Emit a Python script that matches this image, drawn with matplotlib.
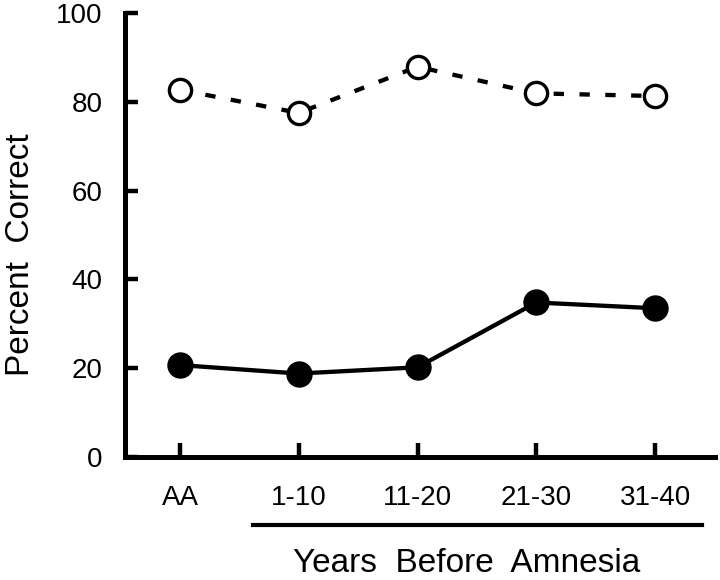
import matplotlib
matplotlib.use("Agg")
import matplotlib.pyplot as plt
from matplotlib.lines import Line2D

categories = ["AA", "1-10", "11-20", "21-30", "31-40"]
open_values = [82.7, 77.5, 87.9, 81.9, 81.3]
filled_values = [20.7, 18.8, 20.2, 34.8, 33.5]
y_ticks = [0, 20, 40, 60, 80, 100]

plt.rcParams['font.family'] = ['Liberation Sans', 'DejaVu Sans']

W, H = 720, 580
fig = plt.figure(figsize=(7.2, 5.8), dpi=100)
ax = fig.add_axes([125/W, 1-457/H, (715-125)/W, (457-13)/H])

x = list(range(len(categories)))
ax.plot(x, open_values, linestyle=(0, (2.4, 3.6)), color='black', lw=3.1,
        marker='o', markersize=16, markerfacecolor='white',
        markeredgecolor='black', markeredgewidth=2.4, zorder=3)
ax.plot(x, filled_values, linestyle='-', color='black', lw=3.1,
        marker='o', markersize=18, markerfacecolor='black',
        markeredgecolor='black', zorder=3)

ax.set_xlim(-0.463, 4.505)
ax.set_ylim(0, 100)
ax.set_xticks(x)
ax.set_xticklabels(categories)
ax.set_yticks(y_ticks)

for s in ['top', 'right']:
    ax.spines[s].set_visible(False)
for s in ['left', 'bottom']:
    ax.spines[s].set_linewidth(3.6)

ax.tick_params(axis='y', direction='in', length=9, width=3.2, labelsize=20, pad=16)
ax.tick_params(axis='x', direction='in', length=10, width=3.2, labelsize=20, pad=20)

fig.text(21/W, 1-255/H, "Percent  Correct", rotation=90, fontsize=24,
         ha='center', va='center')
fig.add_artist(Line2D([253/W, 702/W], [1-525/H, 1-525/H], color='black', lw=3.0))
fig.text(467/W, 1-572/H, "Years  Before  Amnesia", fontsize=24,
         ha='center', va='baseline')

fig.savefig("out.png", dpi=100)
